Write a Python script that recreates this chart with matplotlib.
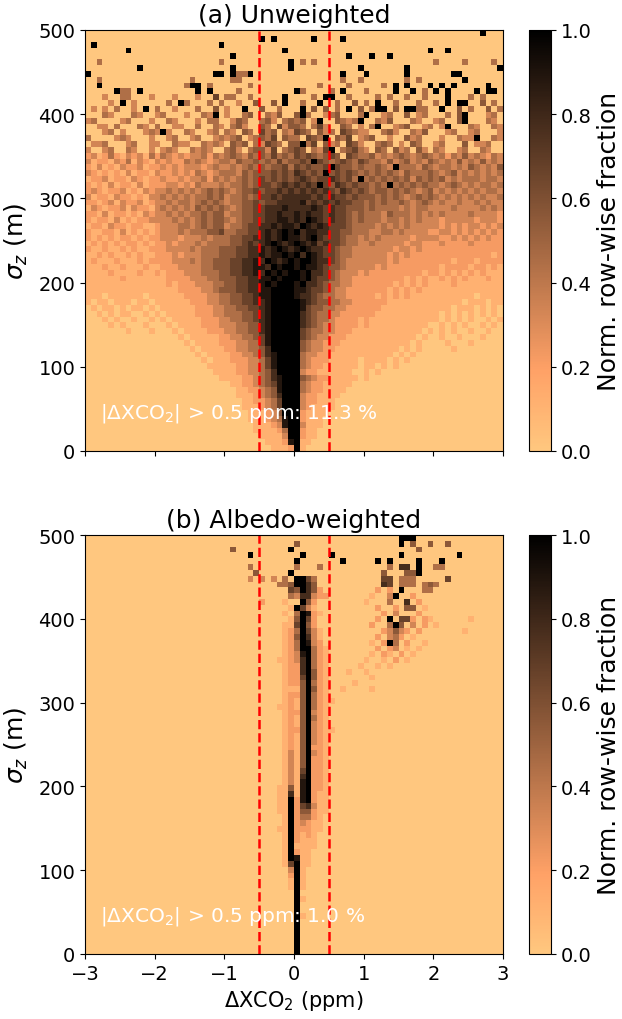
import numpy as np
import matplotlib.pyplot as plt

# bin edges of the 2-D histograms
x_edges = np.linspace(-3, 3, 73)      # delta XCO2 (ppm)
z_edges = np.linspace(0, 500, 73)     # sigma_z (m)

# row-wise normalised fraction, levels 0..9 (9 = 1.0)
# one string per row, top row (500 m) first, 6 groups of 12 columns (1 ppm each)
unweighted_rows = [
    "000000000000 000000000000 000000000000 000000000000 000000000000 000000009000",
    "000000000000 000000000000 000000909000 000900009000 000000000000 000000000000",
    "090000000000 000000000009 000000000000 000000000000 000000000000 000000000000",
    "000000090000 000000000000 000000000090 000000000000 000000000009 009000000000",
    "000000000000 000000000000 090000000000 000000000900 090090000000 000000000000",
    "004000000000 000000000004 000000000009 040400000000 000000000000 400004000040",
    "000000000900 000000000000 090000000009 000000000009 000000090000 000000000009",
    "900000000000 000000000099 094490000000 000000009000 900000090000 000990000000",
    "004000000000 000000400000 044000000000 000000004004 000000040400 000009000000",
    "009000000000 000004990400 000040000000 000040000400 000409090009 090900000900",
    "000009440900 000000090900 004000000000 940000409000 400009009040 909000090990",
    "000300440003 000300030060 440040000090 000409900400 004040040040 009000404000",
    "000030903000 004094000404 003005005090 040090040050 409004000400 409099005040",
    "030304003090 400300040050 300900500400 090505040905 049905099440 090050400504",
    "000430004300 340003004390 300450043500 594003450004 900340050340 004059000340",
    "340000340003 004300030440 035400453045 450390054349 004350004300 340059000430",
    "003304000430 400330040043 045300540635 540463005403 049003450034 039000430043",
    "000340300034 393004300340 430540645043 654053406543 300453004350 003400340003",
    "400003430003 003400340034 345034546054 406549054603 450030053400 030043390043",
    "033400034003 300433004343 054504365405 594605340653 004540305400 340005033400",
    "300340043003 034300434300 453045536045 650436904564 305405340530 430034004300",
    "231242132314 243232334243 454354546454 656545650654 453434543454 342435343243",
    "312213241321 323224343234 435445454645 565965456546 544353453435 434353435343",
    "213121322312 232323332343 343454545564 656556965545 445439444354 344343543435",
    "321212131221 322323243234 443545556565 765659565654 545454354445 434534343434",
    "122312213212 232232334243 434545656565 676566765649 454545453545 453434443443",
    "212131221312 223323243334 344545665676 767696576565 545494545454 434543434434",
    "232122312132 334343434545 434556566767 676767657656 545545454345 343434343443",
    "312213221213 343434344545 344545667677 777676766565 554545434545 434343434334",
    "221231322312 334344345454 344556566777 786767676655 454544543454 343343343433",
    "132122313221 343434354545 434556677787 777876766555 454444343443 333433334343",
    "221312212132 334343445455 344556677877 878776766545 444354443434 343333433332",
    "212213121223 333434345455 434556677887 879876766545 444344343433 323333323332",
    "122132212211 233344345455 344566778788 798787666544 443434343333 323232332323",
    "211221312121 233343444556 445566787898 978877665544 433443433332 233232323232",
    "212121221212 233323334344 455667787898 878976665443 434333332333 322323232322",
    "121212122121 223233343444 455676789878 987867665443 343333323322 232222322222",
    "211211212112 223333434445 556677878987 898776654433 333332332322 222222222222",
    "112121121211 222323334445 556677878898 979876654433 333323232222 222222222212",
    "121112111212 222333434455 566778798789 899877654333 333323222222 222122212222",
    "111211211121 122233334455 566778879899 898876554333 332322222222 212222122121",
    "111121111211 212223334445 566778798989 989776543332 322222222212 212121212111",
    "111111211111 112222333445 556677889899 989766543322 222222212121 121212111211",
    "111111111111 112122233344 556677898999 897765443322 222221212121 111211111111",
    "111111111111 111122223345 556677889999 887665433222 222212121211 111111111111",
    "111011111101 111112222334 455667889999 877654433222 221212121111 111111101111",
    "101101110110 111111222334 455667789999 987655443322 222211111111 111110111011",
    "010110101101 011111122233 445566789999 986554433222 222111111111 111011101010",
    "001010110010 101111122233 444556789999 976544332222 221111111111 101010101010",
    "000101001001 010111112223 344556789999 976544322221 211111111111 101010100101",
    "000010100010 001011112223 334455789999 976543322221 211111111110 010101001010",
    "000000010001 000101111222 334455789999 965443322211 111111111101 010100100100",
    "000000000000 000010111112 233445689999 965433222111 111111111010 010010001000",
    "000000000000 000001011112 223344689999 954332221111 111111110100 001000100000",
    "000000000000 000000101111 223344579999 954332211111 111111010100 000100000000",
    "000000000000 000000010111 122334578999 943322111111 111110101000 000000000000",
    "000000000000 000000001011 122233468999 943222111110 111101010000 000000000000",
    "000000000000 000000000111 112233468999 943221111110 110101000000 000000000000",
    "000000000000 000000000011 112233457999 932211111100 101000000000 000000000000",
    "000000000000 000000000001 111223457899 954322111110 100000000000 000000000000",
    "000000000000 000000000000 011223456899 943221111100 000000000000 000000000000",
    "000000000000 000000000000 001122345899 943221111000 000000000000 000000000000",
    "000000000000 000000000000 001112345799 932211110000 000000000000 000000000000",
    "000000000000 000000000000 000112234699 932211100000 000000000000 000000000000",
    "000000000000 000000000000 000111234699 932111100000 000000000000 000000000000",
    "000000000000 000000000000 000011123599 921111000000 000000000000 000000000000",
    "000000000000 000000000000 000011123489 921110000000 000000000000 000000000000",
    "000000000000 000000000000 000001112389 931110000000 000000000000 000000000000",
    "000000000000 000000000000 000001111249 921100000000 000000000000 000000000000",
    "000000000000 000000000000 000000111139 921100000000 000000000000 000000000000",
    "000000000000 000000000000 000000011128 911000000000 000000000000 000000000000",
    "000000000000 000000000000 000000001112 910000000000 000000000000 000000000000",
]

weighted_rows = [
    "000000000000 000000000000 000000000000 000000000000 000000999000 000000000000",
    "000000000000 000000000000 000000000000 500000000000 000000905005 005000000000",
    "000000000000 000000000000 050000000009 000000000000 000000000500 000000000000",
    "000000000000 000000000000 000090000000 090000900000 000000900000 000090000000",
    "000000000000 000000000000 000000000000 900000009000 009090000900 090000000000",
    "000000000000 000000000000 000040000000 400040000000 000040770900 440000000000",
    "000000000000 000000000000 000005000009 000000000000 000500055900 000000000000",
    "000000000000 000000000000 000030303040 996400000000 000660444000 006000000000",
    "000000000000 000000000000 000000000445 997500000000 000760444045 400000000000",
    "000000000000 000000000000 000000000006 597520000000 002020900044 000000000000",
    "000000000000 000000000000 000000000004 377322000000 010039002000 000000000000",
    "000000000000 000000000000 000000200010 095200000000 100040070200 000000000000",
    "000000000000 000000000000 000000000001 963100000000 002002055010 000000000000",
    "000000000000 000000000000 000000000010 498210000000 000203000200 000000000000",
    "000000000000 000000000000 000000000001 596200000000 002090662021 000000100000",
    "000000000000 000000000000 000000000011 695200000000 020049503020 100000000000",
    "000000000000 000000000000 000000000012 496310000000 000235320200 000001000000",
    "000000000000 000000000000 000000000012 597310000000 002034201000 000000000000",
    "000000000000 000000000000 000000000012 498320000000 010294020010 000000000000",
    "000000000000 000000000000 000000000012 499421000000 002023010100 000000000000",
    "000000000000 000000000000 000000000012 389421000000 010210201000 000000000000",
    "000000000000 000000000000 000000000112 379421000000 100102010000 000000000000",
    "000000000000 000000000000 000000000012 279421000001 001010000000 000000000000",
    "000000000000 000000000000 000000000012 279521000100 100000000000 000000000000",
    "000000000000 000000000000 000000000012 269521000000 010000000000 000000000000",
    "000000000000 000000000000 000000000012 259421000010 000000000000 000000000000",
    "000000000000 000000000000 000000000011 159521001000 010000000000 000000000000",
    "000000000000 000000000000 000000000012 259421000000 000000000000 000000000000",
    "000000000000 000000000000 000000000012 159421100000 000000000000 000000000000",
    "000000000000 000000000000 000000000112 159421000000 000000000000 000000000000",
    "000000000000 000000000000 000000000012 259321000000 000000000000 000000000000",
    "000000000000 000000000000 000000000012 159421000000 000000000000 000000000000",
    "000000000000 000000000000 000000000012 159321000000 000000000000 000000000000",
    "000000000000 000000000000 000000000012 259321100000 000000000000 000000000000",
    "000000000000 000000000000 000000000012 159321000000 000000000000 000000000000",
    "000000000000 000000000000 000000000012 159321000000 000000000000 000000000000",
    "000000000000 000000000000 000000000012 159221000000 000000000000 000000000000",
    "000000000000 000000000000 000000000013 159321000000 000000000000 000000000000",
    "000000000000 000000000000 000000000013 159221000000 000000000000 000000000000",
    "000000000000 000000000000 000000000013 159221000000 000000000000 000000000000",
    "000000000000 000000000000 000000000013 169221000000 000000000000 000000000000",
    "000000000000 000000000000 000000000013 179221000000 000000000000 000000000000",
    "000000000000 000000000000 000000000013 189221000000 000000000000 000000000000",
    "000000000000 000000000000 000000000115 189221000000 000000000000 000000000000",
    "000000000000 000000000000 000000000117 189211000000 000000000000 000000000000",
    "000000000000 000000000000 000000000119 289211000000 000000000000 000000000000",
    "000000000000 000000000000 000000000119 267311000000 000000000000 000000000000",
    "000000000000 000000000000 000000000119 255211000000 000000000000 000000000000",
    "000000000000 000000000000 000000000019 244210000000 000000000000 000000000000",
    "000000000000 000000000000 000000000019 232110000000 000000000000 000000000000",
    "000000000000 000000000000 000000000119 222110000000 000000000000 000000000000",
    "000000000000 000000000000 000000000019 212100000000 000000000000 000000000000",
    "000000000000 000000000000 000000000019 211100000000 000000000000 000000000000",
    "000000000000 000000000000 000000000019 111100000000 000000000000 000000000000",
    "000000000000 000000000000 000000000019 211000000000 000000000000 000000000000",
    "000000000000 000000000000 000000000019 811000000000 000000000000 000000000000",
    "000000000000 000000000000 000000000016 911000000000 000000000000 000000000000",
    "000000000000 000000000000 000000000003 910000000000 000000000000 000000000000",
    "000000000000 000000000000 000000000002 910000000000 000000000000 000000000000",
    "000000000000 000000000000 000000000001 910000000000 000000000000 000000000000",
    "000000000000 000000000000 000000000001 910000000000 000000000000 000000000000",
    "000000000000 000000000000 000000000000 900000000000 000000000000 000000000000",
    "000000000000 000000000000 000000000000 910000000000 000000000000 000000000000",
    "000000000000 000000000000 000000000000 900000000000 000000000000 000000000000",
    "000000000000 000000000000 000000000000 900000000000 000000000000 000000000000",
    "000000000000 000000000000 000000000000 910000000000 000000000000 000000000000",
    "000000000000 000000000000 000000000000 900000000000 000000000000 000000000000",
    "000000000000 000000000000 000000000000 900000000000 000000000000 000000000000",
    "000000000000 000000000000 000000000000 900000000000 000000000000 000000000000",
    "000000000000 000000000000 000000000000 900000000000 000000000000 000000000000",
    "000000000000 000000000000 000000000000 900000000000 000000000000 000000000000",
    "000000000000 000000000000 000000000000 900000000000 000000000000 000000000000",
]

titles = ["(a) Unweighted", "(b) Albedo-weighted"]
exceed_pct = ["11.3", "1.0"]
threshold = 0.5


def to_grid(rows):
    nx = len(x_edges) - 1
    g = []
    for r in rows:
        r = r.replace(" ", "").ljust(nx, "0")[:nx]
        g.append([int(c) / 9 for c in r])
    return np.array(g)[::-1]


fig = plt.figure(figsize=(6.22, 10.2), dpi=100)
ax_a = fig.add_axes([85 / 622, 568 / 1020, 418 / 622, 421 / 1020])
ax_b = fig.add_axes([85 / 622, 65 / 1020, 418 / 622, 419 / 1020], sharex=ax_a)
cax_a = fig.add_axes([529 / 622, 568 / 1020, 22 / 622, 421 / 1020])
cax_b = fig.add_axes([529 / 622, 65 / 1020, 22 / 622, 419 / 1020])

for ax, cax, rows, title, pct in zip([ax_a, ax_b], [cax_a, cax_b],
                                     [unweighted_rows, weighted_rows],
                                     titles, exceed_pct):
    grid = to_grid(rows)
    mesh = ax.pcolormesh(x_edges, z_edges, grid, cmap="copper_r", vmin=0, vmax=1)
    for xv in (-threshold, threshold):
        ax.axvline(xv, color="red", ls="--", lw=1.8)
    ax.set_xlim(-3, 3)
    ax.set_ylim(0, 500)
    ax.set_yticks([0, 100, 200, 300, 400, 500])
    ax.set_xticks([-3, -2, -1, 0, 1, 2, 3])
    ax.set_ylabel(r"$\sigma_z$ (m)", fontsize=18, labelpad=6)
    ax.set_title(title, fontsize=18, pad=6)
    ax.tick_params(labelsize=14)
    ax.text(0.035, 0.065, r"|ΔXCO$_2$| > 0.5 ppm: " + pct + " %",
            transform=ax.transAxes, color="white", fontsize=14.5, va="bottom")
    cb = fig.colorbar(mesh, cax=cax)
    cb.set_ticks([0, 0.2, 0.4, 0.6, 0.8, 1.0])
    cb.ax.tick_params(labelsize=14)
    cb.set_label("Norm. row-wise fraction", fontsize=18)

plt.setp(ax_a.get_xticklabels(), visible=False)
ax_b.set_xlabel(r"ΔXCO$_2$ (ppm)", fontsize=15)

fig.savefig("out.png", dpi=100)
